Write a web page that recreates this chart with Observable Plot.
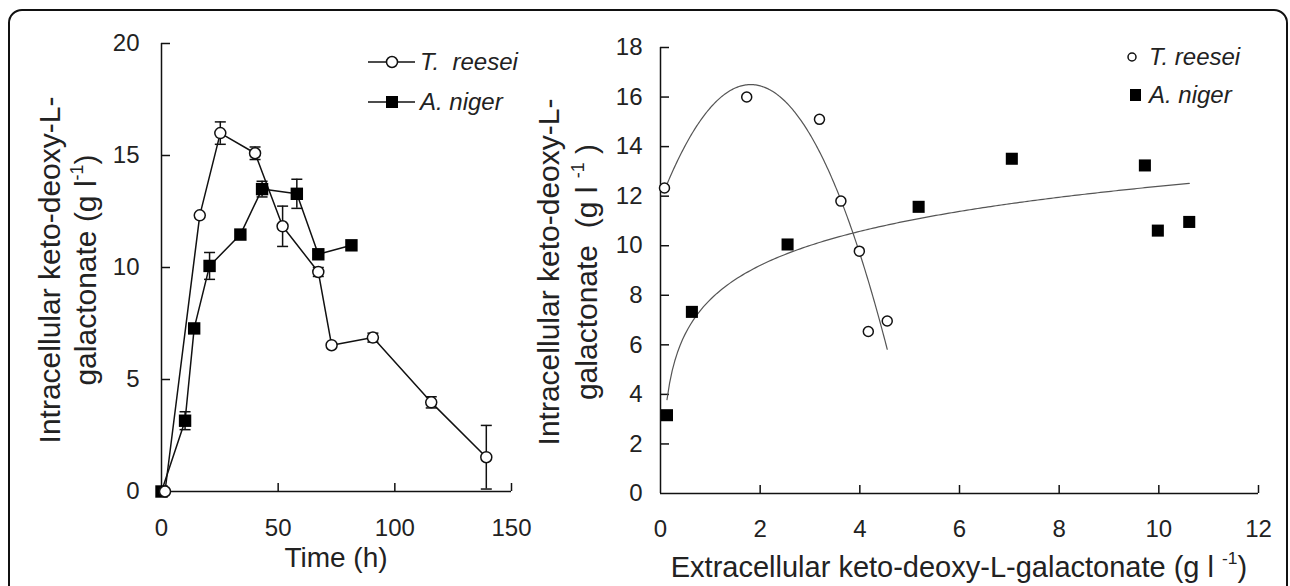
<!DOCTYPE html>
<html><head><meta charset="utf-8">
<script src="https://cdn.jsdelivr.net/npm/d3@7"></script>
<script src="https://cdn.jsdelivr.net/npm/@observablehq/plot@0.6"></script>
<style>
html,body{margin:0;padding:0;background:#fff;overflow:hidden;}
#wrap{position:relative;width:1290px;height:586px;overflow:hidden;font-family:"Liberation Sans",Arial,sans-serif;background:#fff;}
#frame{position:absolute;left:8px;top:9px;width:1276px;height:640px;border:2px solid #111;border-radius:14px;}
#left{position:absolute;left:0;top:0;}
#right{position:absolute;left:500px;top:0;}
</style></head>
<body><div id="wrap"><div id="frame"></div><div id="left"></div><div id="right"></div></div>
<script>
// ---- data: time course (left panel) ----
const trTime = [1.5, 16.4, 25.2, 40.1, 51.9, 67.2, 72.9, 90.6, 115.6, 139.2];
const trConc = [0, 12.33, 16.0, 15.1, 11.84, 9.8, 6.53, 6.87, 3.98, 1.53];
const trErr  = [0, 0, 0.5, 0.28, 0.9, 0.2, 0, 0.2, 0.25, 1.42];
const anTime = [0, 10.1, 14.0, 20.6, 33.8, 43.1, 58.0, 67.2, 81.4];
const anConc = [0, 3.16, 7.28, 10.07, 11.47, 13.5, 13.29, 10.59, 10.99];
const anErr  = [0, 0.4, 0.15, 0.6, 0, 0.35, 0.65, 0.15, 0];
// ---- data: intracellular vs extracellular (right panel) ----
const trExtra = [0.08, 1.73, 3.19, 3.62, 3.99, 4.17, 4.55];
const trIntra = [12.33, 16.0, 15.1, 11.8, 9.78, 6.54, 6.96];
const anExtra = [0.13, 0.63, 2.55, 5.18, 7.05, 9.72, 9.98, 10.61];
const anIntra = [3.16, 7.33, 10.05, 11.57, 13.51, 13.24, 10.61, 10.96];
// ---- ticks ----
const leftXTicks = [0, 50, 100, 150];
const leftYTicks = [0, 5, 10, 15, 20];
const rightXTicks = [0, 2, 4, 6, 8, 10, 12];
const rightYTicks = [0, 2, 4, 6, 8, 10, 12, 14, 16, 18];
const seriesNames = ["T. reesei", "A. niger"];

const FONT = '"Liberation Sans", Arial, sans-serif';
const zip = (xs, ys, es) => xs.map((x, i) => ({x, y: ys[i], e: es ? es[i] : 0}));
const tr = zip(trTime, trConc, trErr);
const an = zip(anTime, anConc, anErr);
const errs = [...tr, ...an].filter(d => d.e > 0);

const capSymbol = {draw(ctx, size) { const r = Math.sqrt(size / Math.PI); ctx.moveTo(-r, 0); ctx.lineTo(r, 0); }};

// ---- left panel ----
const L = {w: 540, h: 586, ml: 161, mr: 29, mt: 43, mb: 95};
const left = Plot.plot({
  width: L.w, height: L.h,
  marginLeft: L.ml, marginRight: L.mr, marginTop: L.mt, marginBottom: L.mb,
  x: {domain: [0, 150], label: null},
  y: {domain: [0, 20], label: null},
  style: {fontFamily: FONT, fontSize: "24px", color: "#222", background: "transparent", overflow: "visible"},
  marks: [
    Plot.axisX(leftXTicks, {tickSize: 0, tickPadding: 27, fontSize: 24, label: null}),
    Plot.axisY(leftYTicks, {tickSize: 0, tickPadding: 22, fontSize: 24, label: null}),
    Plot.tickX(leftXTicks.slice(1), {x: d => d, insetTop: (L.h - L.mt - L.mb) - 8, stroke: "#111", strokeWidth: 1.5}),
    Plot.tickY(leftYTicks.slice(1), {y: d => d, insetRight: (L.w - L.ml - L.mr) - 9, stroke: "#111", strokeWidth: 1.5}),
    Plot.ruleX([0], {stroke: "#111", strokeWidth: 1.5}),
    Plot.ruleY([0], {stroke: "#111", strokeWidth: 1.5}),
    Plot.line(an, {x: "x", y: "y", stroke: "#111", strokeWidth: 1.5}),
    Plot.line(tr, {x: "x", y: "y", stroke: "#111", strokeWidth: 1.5}),
    Plot.ruleX(errs, {x: "x", y1: d => Math.max(0, d.y - d.e), y2: d => d.y + d.e, stroke: "#111", strokeWidth: 1.5}),
    Plot.dot(errs, {x: "x", y: d => d.y + d.e, symbol: capSymbol, r: 5.5, stroke: "#111", strokeWidth: 1.5}),
    Plot.dot(errs, {x: "x", y: d => Math.max(0, d.y - d.e), symbol: capSymbol, r: 5.5, stroke: "#111", strokeWidth: 1.5}),
    Plot.dot(an, {x: "x", y: "y", symbol: "square", r: 7, fill: "#000", stroke: "none"}),
    Plot.dot(tr, {x: "x", y: "y", symbol: "circle", r: 5.5, fill: "#fff", stroke: "#111", strokeWidth: 1.5})
  ]
});
document.getElementById("left").appendChild(left);

// ---- fits for right panel ----
function polyfit(xs, ys, deg) {
  const n = deg + 1;
  const A = Array.from({length: n}, () => new Array(n + 1).fill(0));
  for (let r = 0; r < n; r++) {
    for (let c = 0; c < n; c++) A[r][c] = d3.sum(xs, x => Math.pow(x, r + c));
    A[r][n] = d3.sum(xs, (x, i) => ys[i] * Math.pow(x, r));
  }
  for (let i = 0; i < n; i++) {
    let p = i; for (let k = i + 1; k < n; k++) if (Math.abs(A[k][i]) > Math.abs(A[p][i])) p = k;
    [A[i], A[p]] = [A[p], A[i]];
    for (let k = 0; k < n; k++) if (k !== i) { const f = A[k][i] / A[i][i]; for (let j = i; j <= n; j++) A[k][j] -= f * A[i][j]; }
  }
  const coef = A.map((row, i) => row[n] / row[i]);
  return x => coef.reduce((s, c, i) => s + c * Math.pow(x, i), 0);
}
function logfit(xs, ys) {
  const lx = xs.map(Math.log), mx = d3.mean(lx), my = d3.mean(ys);
  const a = d3.sum(lx, (v, i) => (v - mx) * (ys[i] - my)) / d3.sum(lx, v => (v - mx) ** 2);
  const b = my - a * mx;
  return x => a * Math.log(x) + b;
}
function sample(f, x0, x1, n = 200) { return d3.range(n + 1).map(i => { const x = x0 + (x1 - x0) * i / n; return {x, y: f(x)}; }); }
const trFit = sample(polyfit(trExtra, trIntra, 2), d3.min(trExtra), d3.max(trExtra));
const anFit = sample(logfit(anExtra, anIntra), d3.min(anExtra), d3.max(anExtra));
const tr2 = zip(trExtra, trIntra);
const an2 = zip(anExtra, anIntra);

// ---- right panel ----
const R = {w: 790, h: 586, ml: 160, mr: 32, mt: 47, mb: 93};
const right = Plot.plot({
  width: R.w, height: R.h,
  marginLeft: R.ml, marginRight: R.mr, marginTop: R.mt, marginBottom: R.mb,
  x: {domain: [0, 12], label: null},
  y: {domain: [0, 18], label: null},
  style: {fontFamily: FONT, fontSize: "24px", color: "#222", background: "transparent", overflow: "visible"},
  marks: [
    Plot.axisX(rightXTicks, {tickSize: 0, tickPadding: 26, fontSize: 24, label: null}),
    Plot.axisY(rightYTicks, {tickSize: 0, tickPadding: 18, fontSize: 24, label: null}),
    Plot.tickX(rightXTicks.slice(1), {x: d => d, insetTop: (R.h - R.mt - R.mb) - 8, stroke: "#111", strokeWidth: 1.5}),
    Plot.tickY(rightYTicks.slice(1), {y: d => d, insetRight: (R.w - R.ml - R.mr) - 9, stroke: "#111", strokeWidth: 1.5}),
    Plot.ruleX([0], {stroke: "#111", strokeWidth: 1.5}),
    Plot.ruleY([0], {stroke: "#111", strokeWidth: 1.5}),
    Plot.line(trFit, {x: "x", y: "y", stroke: "#555", strokeWidth: 1.2}),
    Plot.line(anFit, {x: "x", y: "y", stroke: "#555", strokeWidth: 1.2}),
    Plot.dot(an2, {x: "x", y: "y", symbol: "square", r: 6.8, fill: "#000", stroke: "none"}),
    Plot.dot(tr2, {x: "x", y: "y", symbol: "circle", r: 5, fill: "#fff", stroke: "#111", strokeWidth: 1.5})
  ]
});
document.getElementById("right").appendChild(right);

// ---- titles & legends ----
function supText(sel, parts) {
  parts.forEach(([t, sup]) => {
    const ts = sel.append("tspan").text(t);
    if (sup) ts.attr("font-size", "0.6em").attr("dy", "-0.75em");
    else if (sel.node().childNodes.length > 1) ts.attr("dy", "0.45em");
  });
}
function yTitle(svg, x1, x2, cy, l2parts) {
  const g = d3.select(svg).append("g").attr("font-family", FONT).attr("font-size", 30).attr("fill", "#222").attr("text-anchor", "middle");
  g.append("text").attr("transform", `translate(${x1},${cy}) rotate(-90)`).text("Intracellular keto-deoxy-L-");
  const t2 = g.append("text").attr("transform", `translate(${x2},${cy}) rotate(-90)`);
  supText(t2, l2parts);
}
yTitle(left, 60, 96, 270, [["galactonate (g l", false], ["-1", true], [")", false]]);
yTitle(right, 59, 97, 272, [["galactonate  (g l ", false], ["-1", true], [" )", false]]);

d3.select(left).append("text").attr("x", (L.ml + L.w - L.mr) / 2).attr("y", 567)
  .attr("text-anchor", "middle").attr("font-family", FONT).attr("font-size", 28).attr("fill", "#222").text("Time (h)");
const xt = d3.select(right).append("text").attr("x", (R.ml + R.w - R.mr) / 2).attr("y", 577)
  .attr("text-anchor", "middle").attr("font-family", FONT).attr("font-size", 29).attr("fill", "#222");
supText(xt, [["Extracellular keto-deoxy-L-galactonate (g l ", false], ["-1", true], [")", false]]);

// left legend
const lg = d3.select(left).append("g").attr("font-family", FONT).attr("font-size", 24).attr("fill", "#222")
  .attr("font-style", "italic").attr("text-anchor", "start");
[62, 102].forEach((y, i) => {
  lg.append("line").attr("x1", 368).attr("x2", 415).attr("y1", y).attr("y2", y).attr("stroke", "#111").attr("stroke-width", 1.5);
  if (i === 0) lg.append("circle").attr("cx", 392).attr("cy", y).attr("r", 5.5).attr("fill", "#fff").attr("stroke", "#111").attr("stroke-width", 1.5);
  else lg.append("rect").attr("x", 386).attr("y", y - 6).attr("width", 12).attr("height", 12).attr("fill", "#000");
  lg.append("text").attr("x", 420).attr("y", y + 8).text(i === 0 ? "T.  reesei" : seriesNames[1]);
});
// right legend
const rg = d3.select(right).append("g").attr("font-family", FONT).attr("font-size", 24).attr("fill", "#222")
  .attr("font-style", "italic").attr("text-anchor", "start");
[57, 95].forEach((y, i) => {
  if (i === 0) rg.append("circle").attr("cx", 632).attr("cy", y).attr("r", 4).attr("fill", "#fff").attr("stroke", "#111").attr("stroke-width", 1.5);
  else rg.append("rect").attr("x", 630).attr("y", y - 6).attr("width", 11).attr("height", 12).attr("fill", "#000");
  rg.append("text").attr("x", 649).attr("y", y + 8).text(seriesNames[i]);
});
</script>
</body></html>
